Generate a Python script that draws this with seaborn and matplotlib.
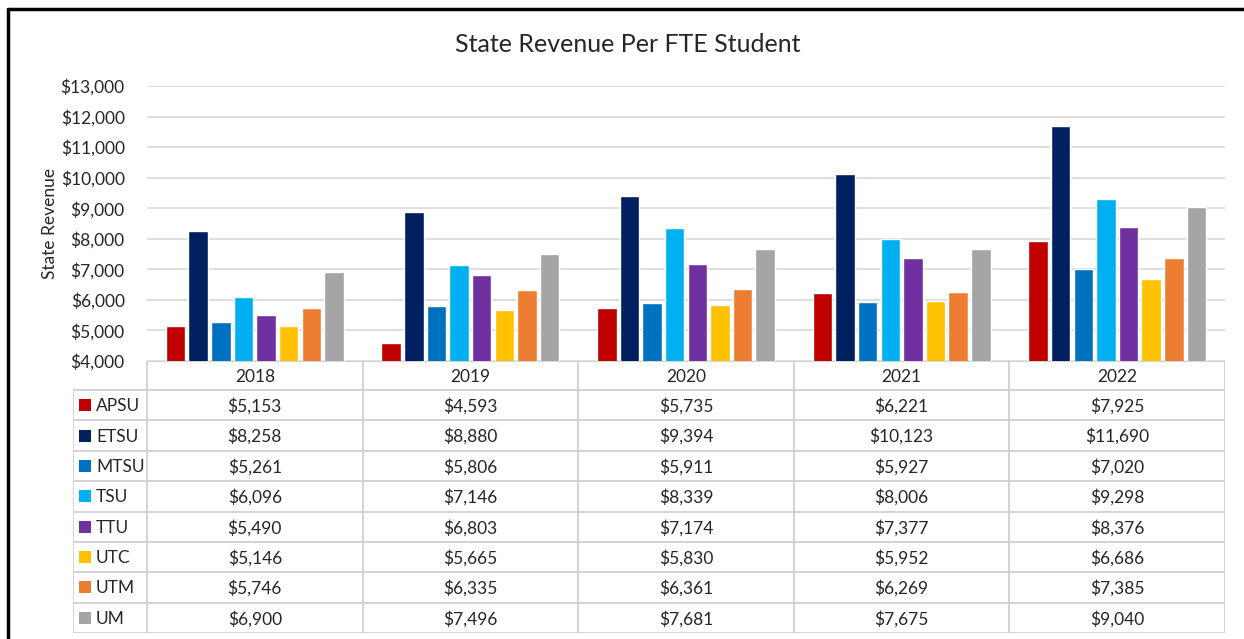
import pandas as pd
import seaborn as sns
import matplotlib.pyplot as plt
from matplotlib.lines import Line2D
from matplotlib.patches import Rectangle

# Daten
years = ['2018', '2019', '2020', '2021', '2022']
schools = ['APSU', 'ETSU', 'MTSU', 'TSU', 'TTU', 'UTC', 'UTM', 'UM']
apsu = [5153, 4593, 5735, 6221, 7925]
etsu = [8258, 8880, 9394, 10123, 11690]
mtsu = [5261, 5806, 5911, 5927, 7020]
tsu = [6096, 7146, 8339, 8006, 9298]
ttu = [5490, 6803, 7174, 7377, 8376]
utc = [5146, 5665, 5830, 5952, 6686]
utm = [5746, 6335, 6361, 6269, 7385]
um = [6900, 7496, 7681, 7675, 9040]
colors = ['#C00000', '#002060', '#0070C0', '#00B0F0', '#7030A0', '#FFC000', '#ED7D31', '#A5A5A5']

series = [apsu, etsu, mtsu, tsu, ttu, utc, utm, um]
rows = []
for s, vals in zip(schools, series):
    for y, v in zip(years, vals):
        rows.append({'year': y, 'school': s, 'value': v})
df = pd.DataFrame(rows)

sns.set_style('white')
plt.rcParams['font.family'] = ['Lato', 'DejaVu Sans']

W, H = 1244, 639
fig = plt.figure(figsize=(W / 100, H / 100), dpi=100)

def fx(px):
    return px / W

def fy(py):
    return 1 - py / H

# Hauptdiagramm
L, R, T, B = 147, 1225, 86, 361
ax = fig.add_axes([fx(L), fy(B), fx(R) - fx(L), fy(T) - fy(B)])
sns.barplot(data=df, x='year', y='value', hue='school', order=years, hue_order=schools,
            palette=colors, saturation=1, width=0.84, gap=0.14, legend=False, ax=ax, zorder=3)
ax.set_ylim(4000, 13000)
ax.set_yticks(range(4000, 13001, 1000))
ax.set_yticklabels([f'${v:,}' for v in range(4000, 13001, 1000)], fontsize=12.5, color='#262626')
ax.yaxis.grid(True, color='#D9D9D9', lw=1.2, zorder=0)
ax.tick_params(axis='y', length=0, pad=16)
ax.set_xticks([])
ax.set_xlabel('')
ax.set_ylabel('State Revenue', fontsize=12.5, color='#262626', labelpad=2)
for sp in ax.spines.values():
    sp.set_visible(False)

fig.text(fx(628), fy(45), 'State Revenue Per FTE Student', ha='center', va='center',
         fontsize=18, color='#262626')

# Datentabelle
TL, TB = 73, 633
tab = fig.add_axes([fx(TL), fy(TB), fx(R) - fx(TL), fy(B) - fy(TB)])
tab.set_xlim(TL, R)
tab.set_ylim(TB, B)
tab.axis('off')
gc = '#D0D0D0'
colw = (R - L) / len(years)
hdr = 390
rowh = (TB - hdr) / len(schools)

tab.plot([L, R], [B, B], color=gc, lw=1.3)
for i in range(len(schools) + 1):
    yy = hdr + i * rowh
    tab.plot([TL, R], [yy, yy], color=gc, lw=1.3)
tab.plot([TL, TL], [hdr, TB], color=gc, lw=1.3)
for k in range(len(years) + 1):
    xx = L + k * colw
    tab.plot([xx, xx], [B, TB], color=gc, lw=1.3)

for k, y in enumerate(years):
    tab.text(L + (k + 0.5) * colw, (B + hdr) / 2 + 1, y, ha='center', va='center',
             fontsize=12.5, color='#262626')
for i, (s, vals, c) in enumerate(zip(schools, series, colors)):
    yc = hdr + (i + 0.5) * rowh
    tab.add_patch(Rectangle((79, yc - 6), 12, 12, facecolor=c, edgecolor='none'))
    tab.text(96, yc + 1, s, ha='left', va='center', fontsize=12.5, color='#262626')
    for k, v in enumerate(vals):
        tab.text(L + (k + 0.5) * colw, yc + 1, f'${v:,}', ha='center', va='center',
                 fontsize=12.5, color='#262626')

# Rahmen
fig.add_artist(Line2D([fx(8), 1], [fy(9), fy(9)], color='black', lw=2.5))
fig.add_artist(Line2D([fx(8), fx(8)], [fy(9), 0], color='black', lw=2.5))

fig.savefig('out.png', dpi=100)
